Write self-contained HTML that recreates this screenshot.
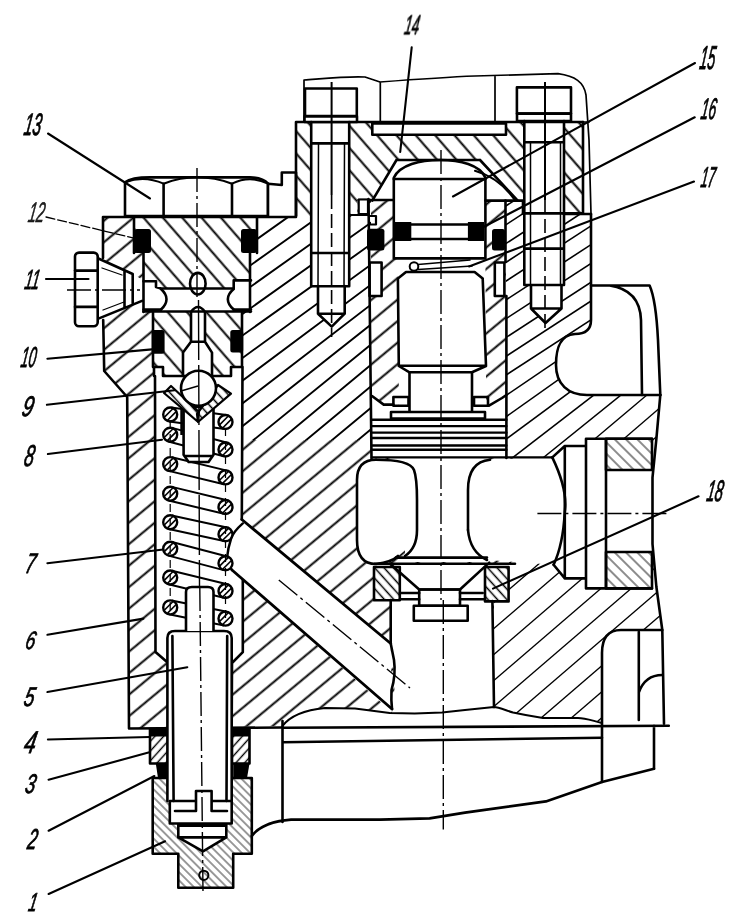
<!DOCTYPE html>
<html><head><meta charset="utf-8"><style>
html,body{margin:0;padding:0;background:#fff;width:743px;height:922px;overflow:hidden}
svg{display:block}
</style></head><body>
<svg width="743" height="922" viewBox="0 0 743 922">
<defs>
<pattern id="hb" patternUnits="userSpaceOnUse" width="80" height="16.55" patternTransform="translate(0,16.6) rotate(-39.7)"><line x1="-5" y1="8.3" x2="85" y2="8.3" stroke="#000" stroke-width="1.9"/></pattern>
<pattern id="hb2" patternUnits="userSpaceOnUse" width="80" height="19.7" patternTransform="translate(0,1.9) rotate(-40.7)"><line x1="-5" y1="9.85" x2="85" y2="9.85" stroke="#000" stroke-width="1.4"/></pattern>
<pattern id="hb3" patternUnits="userSpaceOnUse" width="80" height="15.8" patternTransform="translate(0,16.46) rotate(-33)"><line x1="-5" y1="7.9" x2="85" y2="7.9" stroke="#000" stroke-width="1.5"/></pattern>
<pattern id="hp" patternUnits="userSpaceOnUse" width="80" height="14.6" patternTransform="translate(0,1.9) rotate(49)"><line x1="-5" y1="7.3" x2="85" y2="7.3" stroke="#000" stroke-width="1.9"/></pattern>
<pattern id="hpp" patternUnits="userSpaceOnUse" width="80" height="14.6" patternTransform="translate(0,-3.15) rotate(49)"><line x1="-5" y1="7.3" x2="85" y2="7.3" stroke="#000" stroke-width="1.9"/></pattern>
<pattern id="hf" patternUnits="userSpaceOnUse" width="30" height="5.8" patternTransform="rotate(45)"><line x1="-5" y1="2.9" x2="35" y2="2.9" stroke="#000" stroke-width="0.8"/></pattern>
<pattern id="hf2" patternUnits="userSpaceOnUse" width="30" height="6.5" patternTransform="rotate(-48)"><line x1="-5" y1="3.2" x2="35" y2="3.2" stroke="#000" stroke-width="1.4"/></pattern>
<pattern id="hf3" patternUnits="userSpaceOnUse" width="30" height="7" patternTransform="rotate(48)"><line x1="-5" y1="3.5" x2="35" y2="3.5" stroke="#000" stroke-width="1.4"/></pattern>
<pattern id="hf4" patternUnits="userSpaceOnUse" width="30" height="8" patternTransform="rotate(45)"><line x1="-5" y1="4" x2="35" y2="4" stroke="#000" stroke-width="0.9"/></pattern>
</defs>

<!-- ===== MAIN BODY (hatched /) ===== -->
<path fill="url(#hb)" d="M103,217 L357.5,217 L357.5,200.6 L523,200.6 L523,214 L591,214 L591,320 C591,330 585,334 575,334 C560,335 556,348 556,365 C556,384 568,395 587,395 L660.3,395 L656.4,438.6 L652.5,477.7 L652.5,544 L656.4,587 L662.3,630 L621,630 Q602,630 602,653 L602,723 C590,720 585,718 578,718 L543,718 C530,716 520,714 513,712.5 C505,710 498,707 494,707 L465,710 L442,712.4 L414.7,713.6 L389.7,712.9 L355,708.6 L325,708 C305,710 290,716 282.5,726 L129,728.5 L127.2,397 L104.2,371 L103.2,320 L103,258 Z"/>
<clipPath id="fanclip"><path d="M243,200 L371,200 L371,440 L243,440 Z"/></clipPath>
<path fill="#fff" d="M243,217 L357.5,217 L357.5,200.6 L371,200.6 L371,440 L243,440 Z"/>
<g clip-path="url(#fanclip)" stroke="#000" stroke-width="1.9" fill="none">
<path d="M230,129.3 L400,8.6 M230,150.8 L400,30.1 M230,172.3 L400,51.6 M230,193.8 L400,73.1 M230,215.3 L400,94.6 M230,236.8 L400,116.1 M230,258.3 L400,137.6 M230,279.8 L400,159.1 M230,301.3 L400,180.6 M230,322.8 L400,202.1 M230,344.3 L400,223.6 M230,367.0 L400,243.5 M230,390.0 L400,262.9 M230,413.0 L400,282.3 M230,436.0 L400,301.6 M230,459.1 L400,321.0 M230,481.8 L400,340.7 M230,503.3 L400,362.2 M230,524.8 L400,383.7 M230,546.3 L400,405.2"/>
</g>
<clipPath id="rclip"><path d="M505.5,200.6 L523,200.6 L523,214 L591,214 L591,320 C591,330 585,334 575,334 C560,335 556,348 556,365 C556,384 568,395 587,395 L660.3,395 L656.4,438.6 L652.5,477.7 L652.5,544 L656.4,587 L662.3,630 L621,630 Q602,630 602,653 L602,723 C590,720 585,718 578,718 L543,718 C530,716 520,714 513,712.5 C505,710 498,707 494,707 L494,600 L508.6,600 L508.6,458 L506.4,458 Z"/></clipPath>
<path fill="#fff" d="M505.5,200.6 L523,200.6 L523,214 L591,214 L591,320 C591,330 585,334 575,334 C560,335 556,348 556,365 C556,384 568,395 587,395 L660.3,395 L656.4,438.6 L652.5,477.7 L652.5,544 L656.4,587 L662.3,630 L621,630 Q602,630 602,653 L602,723 C590,720 585,718 578,718 L543,718 C530,716 520,714 513,712.5 C505,710 498,707 494,707 L494,600 L508.6,600 L508.6,458 L506.4,458 Z"/>
<g clip-path="url(#rclip)" stroke="#000" fill="none">
<path stroke-width="1.60" d="M480,185.2 L680,55.2"/>
<path stroke-width="1.60" d="M480,204.0 L680,74.0"/>
<path stroke-width="1.60" d="M480,222.8 L680,92.8"/>
<path stroke-width="1.60" d="M480,241.6 L680,111.6"/>
<path stroke-width="1.60" d="M480,260.4 L680,130.4"/>
<path stroke-width="1.60" d="M480,279.2 L680,149.2"/>
<path stroke-width="1.60" d="M480,298.0 L680,168.0"/>
<path stroke-width="1.60" d="M480,316.8 L680,186.8"/>
<path stroke-width="1.60" d="M480,335.6 L680,205.6"/>
<path stroke-width="1.60" d="M480,354.4 L680,224.4"/>
<path stroke-width="1.60" d="M480,373.2 L680,243.2"/>
<path stroke-width="1.60" d="M480,392.0 L680,262.0"/>
<path stroke-width="1.60" d="M480,413.1 L680,277.4"/>
<path stroke-width="1.60" d="M480,435.2 L680,293.6"/>
<path stroke-width="1.55" d="M480,458.5 L680,310.7"/>
<path stroke-width="1.50" d="M480,482.9 L680,328.6"/>
<path stroke-width="1.44" d="M480,508.7 L680,347.4"/>
<path stroke-width="1.38" d="M480,535.7 L680,367.2"/>
<path stroke-width="1.35" d="M480,562.5 L680,390.5"/>
<path stroke-width="1.35" d="M480,588.5 L680,416.5"/>
<path stroke-width="1.35" d="M480,614.5 L680,442.5"/>
<path stroke-width="1.35" d="M480,640.5 L680,468.5"/>
<path stroke-width="1.35" d="M480,666.5 L680,494.5"/>
<path stroke-width="1.35" d="M480,692.5 L680,520.5"/>
<path stroke-width="1.35" d="M480,718.5 L680,546.5"/>
<path stroke-width="1.35" d="M480,744.5 L680,572.5"/>
<path stroke-width="1.35" d="M480,770.5 L680,598.5"/>
<path stroke-width="1.35" d="M480,796.5 L680,624.5"/>
<path stroke-width="1.35" d="M480,822.5 L680,650.5"/>
<path stroke-width="1.35" d="M480,848.5 L680,676.5"/>
<path stroke-width="1.35" d="M480,874.5 L680,702.5"/>
<path stroke-width="1.35" d="M480,900.5 L680,728.5"/>
<path stroke-width="1.35" d="M480,926.5 L680,754.5"/>
<path stroke-width="1.35" d="M480,952.5 L680,780.5"/>
<path stroke-width="1.35" d="M480,978.5 L680,806.5"/>
</g>


<!-- ===== WHITE CAVITIES ===== -->
<g fill="#fff" stroke="none">
<path d="M154,367 L243,367 L243,652 L232,663 L232,729 L167,729 L167,662 L155,652 Z"/>
<path d="M241.8,519.5 L390.7,643.5 L392,712 L232,570 L227,556 L231,539 Z"/>
<path d="M311,116 L350,116 L350,286 L344.7,286 L344.7,313.7 L331.7,326.6 L318,313.7 L318,286 L311,286 Z"/>
<path d="M524,116 L564,116 L564,285 L561.5,285 L561.5,308.5 L545.5,323 L531,308.5 L531,285 L524,285 Z"/>
<path d="M372.3,200.6 L396.5,160 L480,160 L517.7,200.6 Z"/>
<path d="M393.8,258.4 L393.8,177.7 C400,165 420,160 440,160 C460,160 480,165 485.4,177.7 L485.4,258.4 L486,366 L472,372.3 L472,411 L409.5,411 L409.5,372.3 L398.8,366 L397.5,258.4 Z"/>
<rect x="369.6" y="262.5" width="12" height="33.5"/>
<rect x="494.8" y="262.5" width="9.6" height="33.5"/>
<path d="M372,396 L383.7,404.6 L398.8,404.6 L398.8,366 L486,366 L486,405 L489,405.7 L502,398 L506.4,395 L506.4,458 L372,458 Z"/>
<!-- lobes & chamber -->
<path d="M376,459.8 Q357,459.8 357,480 L357,540 Q357,564 376,564 Q392,562 398,556 L417,540 L417,478 Q417,466 410,459.8 Z"/>
<path d="M468,478 Q468,462 480,459.8 L552.3,457.4 Q568,500 564.8,512 Q563,545 553.6,564.7 L487,560 Q468,548 468,530 Z"/>
<path d="M405,457 L480,457 L480,562 L405,562 Z"/>
<path d="M374,563.7 L508.6,563.7 L508.6,600.3 L374,600.3 Z"/>
<path d="M390.7,598 L492.4,598 L494,707 L465,710 L442,712.4 L414.7,713.6 L392,712.9 Q395,690 395,674.7 Q390,655 390.7,643.5 Z"/>
<!-- right flange -->
<path d="M552.3,457.4 L564.8,446 L586,446 L586,438.7 L652,438.7 L652,588.4 L586,588.4 L586,578.4 L564.8,578.4 L553.6,564.7 Z"/>
<!-- screw 11 -->
<path d="M98.4,258.5 L132.7,274 L143,280 L143,301 L99,318.4 Z"/>
</g>

<!-- ===== CAP (hatched \) ===== -->
<path fill="#fff" d="M296,122 L583,122 L583,213.4 L523,213.4 L523,200.6 L517.7,200.6 L480,160 L396.5,160 L372.3,200.6 L357.5,200.6 L357.5,216 L296,216 Z"/>
<path fill="url(#hp)" d="M296,122 L583,122 L583,213.4 L523,213.4 L523,200.6 L517.7,200.6 L480,160 L396.5,160 L372.3,200.6 L357.5,200.6 L357.5,216 L296,216 Z"/>
<g fill="#fff">
<rect x="372.3" y="123.4" width="133.7" height="11.3"/>
<path d="M311,122 L350,122 L350,216 L311,216 Z"/>
<path d="M524,121 L563.5,121 L563.5,214 L524,214 Z"/>
</g>

<!-- ===== PLUG 13 (hatched \) ===== -->
<path fill="#fff" d="M134,217 L257,217 L257,253 L250,253 L250,312 L242,312 L242,367 L231,367 L231,376 L163,376 L163,367 L153,367 L153,312 L144,312 L144,253 L134,253 Z"/>
<path fill="url(#hpp)" d="M134,217 L257,217 L257,253 L250,253 L250,312 L242,312 L242,367 L231,367 L231,376 L163,376 L163,367 L153,367 L153,312 L144,312 L144,253 L134,253 Z"/>
<g fill="#fff">
<path d="M143.5,281.2 L156,281.2 L156,287 L161,287 L161,288.5 L233.7,288.5 L233.7,280.4 L251,280.4 L251,311.5 L143.5,311.5 Z"/>
<ellipse cx="197.8" cy="283.7" rx="7.8" ry="10.8"/>
<path d="M191,341.8 L191,312 Q198,302 205,312 L205,341.8 L212,352.6 L212,376 L183,376 L183,352.6 Z"/>
</g>

<!-- ===== FINE HATCHED PARTS ===== -->
<g>
<rect x="150" y="729" width="19.5" height="34.5" fill="#fff"/>
<rect x="150" y="729" width="19.5" height="34.5" fill="url(#hf2)"/>
<rect x="232" y="729" width="17.5" height="34.5" fill="#fff"/>
<rect x="232" y="729" width="17.5" height="34.5" fill="url(#hf2)"/>
<path fill="#fff" d="M152.7,778 L251.8,778 L251.8,853.7 L233.2,853.7 L233.2,887.7 L178.3,887.7 L178.3,853.7 L152.7,853.7 Z"/>
<path fill="url(#hf)" d="M152.7,778 L251.8,778 L251.8,853.7 L233.2,853.7 L233.2,887.7 L178.3,887.7 L178.3,853.7 L152.7,853.7 Z"/>
<path fill="#fff" d="M169.8,778 L231.7,778 L231.7,823.5 L226.3,823.5 L226.3,837.4 L203,851.3 L178.3,837.4 L178.3,823.5 L169.8,823.5 Z"/>
<rect x="374" y="567" width="25.8" height="33.3" fill="url(#hf3)"/>
<rect x="485" y="567" width="23.6" height="34.4" fill="url(#hf3)"/>
<rect x="606" y="438.7" width="46" height="31.3" fill="url(#hf4)"/>
<rect x="606" y="552" width="46" height="36.4" fill="url(#hf4)"/>
</g>

<!-- ===== BLACK SEALS ===== -->
<g fill="#000">
<rect x="134.5" y="229" width="16.5" height="24" rx="2.5"/>
<rect x="241" y="229" width="15.8" height="24" rx="2.5"/>
<rect x="151.7" y="330" width="12.9" height="23.7" rx="2.5"/>
<rect x="230.3" y="330" width="12.9" height="22.6" rx="2.5"/>
<rect x="367" y="228.8" width="17.4" height="21.6" rx="2.5"/>
<rect x="492" y="229" width="13" height="21.5" rx="2.5"/>
<rect x="395" y="222" width="16.3" height="19"/>
<rect x="467.9" y="222" width="16.1" height="19"/>
<rect x="150" y="729" width="19.5" height="7.5"/>
<rect x="232" y="729" width="17.5" height="7.5"/>
<path d="M155.8,763.5 L169.8,763.5 L169.8,778 L158,778 Z"/>
<path d="M233.2,763.5 L249.5,763.5 L247,778 L233.2,778 Z"/>
</g>

<!-- ===== OUTLINES ===== -->
<g fill="none" stroke="#000" stroke-width="2.6" stroke-linejoin="round" stroke-linecap="round">
<!-- nut 13 -->
<path fill="#fff" d="M125,216 L125,182.4 C130,178.5 138,177.4 150,177.4 L250,177.4 C258,177.5 264,179 268,183.7 L268,216 Z"/>
<path stroke-width="2" d="M125,182.4 Q144,175 163.6,183.7 Q197,171 232,183.7 Q250,175 268,183.7"/>
<path d="M163.6,183.7 L163.6,216 M232,183.7 L232,216"/>
<path fill="#fff" d="M268,216 L268,183.7 L281.8,185 L281.8,172.5 L296,172.5 L296,216"/>
<!-- body outer -->
<path d="M103,217 L296,217 M103,217 L103,258 M103.2,320 L104.2,371 L127.2,397 L129,728.5 L282.5,727.5"/>
<!-- screw 11 -->
<rect fill="#fff" x="75" y="252.6" width="22.7" height="73.6" rx="4"/>
<path d="M75,270.6 L97.7,270.6 M75,306.9 L97.7,306.9"/>
<path d="M98.4,258.5 L132.7,274 M99,318.4 L142,300.9 M124.5,271 L124.5,308 M132.7,274 L132.7,304.2"/>
<path stroke-width="1.3" d="M102,268 L122,275 M103,310 L124,302"/>
<!-- plug -->
<path d="M134,217 L134,253 M257,217 L257,253 M143.5,253 L143.5,312 M250,253 L250,312 M153,312 L153,367 L163,367 L163,376 L231,376 L231,367 L242,367 L242,312"/>
<path d="M143.5,281.2 L156,281.2 L156,287 L161,288.5 L233.7,288.5 L233.7,280.4 L251,280.4 M143.5,311.5 L251,311.5 M143.5,309.5 L161,309.5 M233.7,309.5 L251,309.5"/>
<path d="M161,289 Q172,299 161,309.5 M233.7,289 Q222,299 233.7,309.5"/>
<ellipse cx="197.8" cy="283.7" rx="7.8" ry="10.8"/>
<path d="M191,341.8 L191,312 Q198,302 205,312 L205,341.8 L212,352.6 L212,376 M191,341.8 L183,352.6 L183,376 M191,341.8 L205,341.8"/>
<!-- spring bore walls -->
<path d="M154,376 L154,367 M155,376 L155.5,652 L167,662 M242.5,367 L241.8,519.5 M242.8,580 L242.8,652.2 L232,663 L231.7,729"/>
<path stroke-width="2.4" d="M242.8,523.4 Q233,532 231,539 Q228,548 227.2,556.6 Q228,565 232,570"/>
<!-- diagonal channel -->
<path stroke-width="2.8" d="M241.8,519.5 L390.7,643.5 M232,570 L392,709"/>
<!-- cap -->
<path d="M296,122 L583,122 M296,122 L296,216"/>
<path stroke-width="1.7" d="M304,122 L304,80 C330,78 350,76 365,77 L380,82 C420,79 450,77 475,76 L558,73.6 C575,76 584,82 586,95 L589,140 L591,214 M380.3,82 L380.3,122 M495,76 L495,121 M583,122 L589,122"/>
<path d="M583,122 L583,213.4 L523,213.4 M563.5,214 L591,214"/>
<path d="M396.5,160 L480,160 M396.5,160 L372.3,200.6 M480,160 L517.7,200.6"/>
<path stroke-width="2" d="M475,170.8 Q500,178 514.9,200.3"/>
<rect x="372.3" y="123.4" width="133.7" height="11.3"/>
<!-- bolts -->
<rect fill="#fff" x="305" y="88.5" width="51.8" height="27.5"/>
<rect fill="#fff" x="304.5" y="116.4" width="52.5" height="5.6"/>
<path d="M311.2,122 L311.2,286.2 L349.2,286.2 L349.2,122 M318,286 L318,313.7 L331.7,326.6 L344.7,313.7 L344.7,286 M318,313.7 L344.7,313.7 M311.2,143.4 L349.2,143.4 M311.2,253 L349.2,253"/>
<path stroke-width="1.5" d="M318.5,143.4 L318,286 M344.5,143.4 L344,286"/>
<rect fill="#fff" x="516.9" y="87.4" width="54.1" height="26.2"/>
<rect fill="#fff" x="517" y="113.6" width="54" height="7.4"/>
<path d="M524.3,121 L524.3,285 L564,285 L564,121 M531,285 L531,308.5 L545.5,323 L561.5,308.5 L561.5,285 M531,308.5 L561.5,308.5 M524.3,142.3 L564,142.3 M524.3,248.6 L564,248.6"/>
<path stroke-width="1.5" d="M530.5,142.3 L530.5,285 M560.5,142.3 L560.5,285"/>
<!-- sleeve -->
<path d="M358.7,200 L393.8,200 M485.4,200.6 L523,200.6 L523,213.4"/>
<path d="M368.5,199 L371.5,458.4 M505.5,200.6 L505.5,262 M506.4,296 L506.4,458"/>
<path fill="#fff" stroke-width="2.2" d="M358.7,199.5 L358.7,214 L368,214 L368,199.5 Z"/>
<path stroke-width="2.2" d="M349,215 L369,215 M369,216 L376,216 L376,224.5 L369.5,224.5"/>
<path d="M372,396 L383.7,404.6 L393.4,404.6 M489,405.7 L502,398 L506.4,395"/>
<rect x="369.6" y="262.5" width="12" height="33.5"/>
<rect x="494.8" y="262.5" width="9.6" height="33.5"/>
<!-- piston 15 -->
<path d="M393.8,258.4 L393.8,177.7 C400,165 420,160 440,160 C460,160 480,165 485.4,177.7 L485.4,258.4 Z"/>
<path d="M393.8,179 L485.4,179 M411.3,224.5 L467.9,224.5 M411.3,239 L467.9,239"/>
<!-- spring 17 -->
<circle cx="414" cy="266.5" r="4.3" stroke-width="2"/>
<path stroke-width="1.6" d="M418,264.5 L470,260 M418,269.5 L472,266"/>
<!-- lower piston -->
<path d="M397.9,278.6 L406,272 L474.6,272 L482.7,278.6 M397.9,278.6 L398.8,366 L409.5,372.3 L472,372.3 L486,366 L482.7,278.6 M398.8,365.8 L486,365.8"/>
<path d="M409.5,372.3 L409.5,411 M472,372.3 L472,411"/>
<rect x="393.4" y="397" width="15.1" height="8.7"/>
<rect x="474" y="397" width="14" height="8.7"/>
<rect x="391" y="412" width="94" height="6.6"/>
<path stroke-width="2.4" d="M372,419.7 L506.4,419.7 M372,426.1 L506.4,426.1 M372,432.6 L506.4,432.6 M372,438 L506.4,438 M372,445.5 L506.4,445.5 M372,449.8 L506.4,449.8 M372,457.4 L552.3,457.4"/>
<!-- chamber lobes -->
<path d="M376,459.8 Q357,459.8 357,480 L357,540 Q357,564 376,564 Q392,562 398,556"/>
<path d="M376,459.8 Q410,459.8 414,470 Q417,478 417,500 L417,530 Q417,548 405,556"/>
<path d="M468,530 L468,490 Q468,462 490,459.8"/>
<path d="M552.3,457.4 Q568,490 564.8,512 Q563,545 553.6,564.7"/>
<path d="M468,530 Q470,552 487,560"/>
<!-- valve head -->
<path d="M396,557.6 L487,557.6 M390,563.7 L489,563.7 M390,563.7 L419.2,589.5 L460,589.5 L489.2,562.6"/>
<path d="M375,563.7 L392,563.7 M489,563.7 L515,563.7"/>
<rect x="374" y="567" width="25.8" height="33.3"/>
<rect x="485" y="567" width="23.6" height="34.4"/>
<path d="M399.8,593 L419.2,593 M460,593 L482.7,593 M399.8,599.2 L419.2,599.2 M460,599.2 L485,599.2"/>
<rect x="419.2" y="589.5" width="40.8" height="16.2"/>
<rect x="413.8" y="605.7" width="53.9" height="15"/>
<path d="M390.7,600 L390.7,643.5 M392,709 Q391,700 391.5,690 Q396,675 394,660 L390.7,643.5 M492.4,601 L494,707"/>
<!-- right port -->
<path d="M591,214 L591,320 C591,330 585,334 575,334 C560,335 556,348 556,365 C556,384 568,395 587,395 L660.3,395"/>
<path d="M591,285.5 L649.6,285.5 Q656,300 658,340 L660.3,395 M609.7,285.5 Q640,290 641,320 L642,395"/>
<path d="M552.3,457.4 L564.8,446 L586,446 M564.8,446 L564.8,578.4 M586,438.7 L586,588.4 M606,438.7 L606,588.4 M586,438.7 L652,438.7 M586,588.4 L652,588.4 M553.6,564.7 L564.8,578.4 L586,578.4"/>
<rect x="606" y="438.7" width="46" height="31.3"/>
<rect x="606" y="552" width="46" height="36.4"/>
<path d="M660.3,395 L656.4,438.6 L652.5,477.7 L652.5,544 L656.4,587 L662.3,630 L664,723.8"/>
<path d="M602,782 L602,653 Q602,630 621,630 L662.3,630 M638.8,632 L638.8,720 M638.8,692.5 Q645,675 662.3,675"/>
<!-- base -->
<path stroke-width="2" d="M282.5,726 C290,716 305,710 325,708 L355,708.6 L389.7,712.9 L414.7,713.6 L442,712.4 L465,710 L494,707 C498,707 505,710 513,712.5 C520,714 530,716 543,718 L578,718 C585,718 590,720 602,723"/>
<path d="M282.5,727.8 L668.8,725.8 M282.5,742.3 L602,737.7 M282.5,721 L282.5,822 M654,725.8 L654,768.8"/>
<path d="M251.8,836 Q262,822 291,819.6 L380,819.6 L429.6,818.4 L465,812.6 L545.9,801.4 L602,782 L654,768.8"/>
<!-- part 4 / 1 -->
<rect x="150" y="729" width="19.5" height="34.5"/>
<rect x="232" y="729" width="17.5" height="34.5"/>
<path d="M152.7,778 L251.8,778 L251.8,853.7 L233.2,853.7 L233.2,887.7 L178.3,887.7 L178.3,853.7 L152.7,853.7 Z"/>
<path d="M169.8,801 L169.8,823.5 L231.7,823.5 L231.7,801 M178.3,823.5 L178.3,837.4 L203,851.3 L226.3,837.4 L226.3,823.5 M178.3,825.8 L226.3,825.8 M178.3,837.4 L226.3,837.4"/>
<circle cx="203.8" cy="875.3" r="4.6" stroke-width="2"/>
<!-- plunger 5 -->
<path fill="#fff" d="M167.4,801 L167.4,638 Q167.4,631 175,631 L224,631 Q231.7,631 231.7,638 L231.7,801"/>
<path d="M172.4,636 L173.6,801 M227.2,636 L226.5,801"/>
<path d="M169.8,801 L196,801 L196,791 L211.6,791 L211.6,801 L231.7,801 M175,811 L196,811 M211.6,811 L227,811 M196,801 L196,811 M211.6,801 L211.6,811"/>
</g>

<!-- ===== SPRING ===== -->
<g fill="none" stroke="#000" stroke-width="2">
<path fill="#fff" d="M169.3,421.4 L224.6,428.9 L226.4,415.1 L171.1,407.6 Z" stroke="none"/>
<path d="M169.3,421.4 L224.6,428.9 M171.1,407.6 L226.4,415.1"/>
<path fill="#fff" d="M168.4,441.5 L223.7,456.3 L227.3,442.7 L172.0,427.9 Z" stroke="none"/>
<path d="M168.4,441.5 L223.7,456.3 M172.0,427.9 L227.3,442.7"/>
<path fill="#fff" d="M168.6,470.9 L223.9,484.2 L227.1,470.6 L171.8,457.3 Z" stroke="none"/>
<path d="M168.6,470.9 L223.9,484.2 M171.8,457.3 L227.1,470.6"/>
<path fill="#fff" d="M168.6,500.5 L223.9,513.8 L227.1,500.2 L171.8,486.9 Z" stroke="none"/>
<path d="M168.6,500.5 L223.9,513.8 M171.8,486.9 L227.1,500.2"/>
<path fill="#fff" d="M168.7,529.0 L224.0,541.1 L227.0,527.5 L171.7,515.4 Z" stroke="none"/>
<path d="M168.7,529.0 L224.0,541.1 M171.7,515.4 L227.0,527.5"/>
<path fill="#fff" d="M168.4,555.6 L223.7,570.1 L227.3,556.5 L172.0,542.0 Z" stroke="none"/>
<path d="M168.4,555.6 L223.7,570.1 M172.0,542.0 L227.3,556.5"/>
<path fill="#fff" d="M168.5,584.3 L223.8,597.8 L227.2,584.2 L171.9,570.7 Z" stroke="none"/>
<path d="M168.5,584.3 L223.8,597.8 M171.9,570.7 L227.2,584.2"/>
<path fill="#fff" d="M168.8,614.3 L224.1,625.5 L226.9,611.7 L171.6,600.5 Z" stroke="none"/>
<path d="M168.8,614.3 L224.1,625.5 M171.6,600.5 L226.9,611.7"/>
</g>
<g fill="#fff" stroke="#000" stroke-width="2.4">
<circle cx="170.2" cy="414.5" r="7.0"/>
<circle cx="170.2" cy="434.7" r="7.0"/>
<circle cx="170.2" cy="464.1" r="7.0"/>
<circle cx="170.2" cy="493.7" r="7.0"/>
<circle cx="170.2" cy="522.2" r="7.0"/>
<circle cx="170.2" cy="548.8" r="7.0"/>
<circle cx="170.2" cy="577.5" r="7.0"/>
<circle cx="170.2" cy="607.4" r="7.0"/>
<circle cx="225.5" cy="422" r="7.0"/>
<circle cx="225.5" cy="449.5" r="7.0"/>
<circle cx="225.5" cy="477.4" r="7.0"/>
<circle cx="225.5" cy="507" r="7.0"/>
<circle cx="225.5" cy="534.3" r="7.0"/>
<circle cx="225.5" cy="563.3" r="7.0"/>
<circle cx="225.5" cy="591" r="7.0"/>
<circle cx="225.5" cy="618.6" r="7.0"/>
</g>
<g fill="none" stroke="#000" stroke-width="1.6">
<path d="M164.5,417.1 L172.8,408.8"/>
<path d="M167.6,420.2 L175.9,411.9"/>
<path d="M164.5,437.3 L172.8,429.0"/>
<path d="M167.6,440.4 L175.9,432.1"/>
<path d="M164.5,466.7 L172.8,458.4"/>
<path d="M167.6,469.8 L175.9,461.5"/>
<path d="M164.5,496.3 L172.8,488.0"/>
<path d="M167.6,499.4 L175.9,491.1"/>
<path d="M164.5,524.8 L172.8,516.5"/>
<path d="M167.6,527.9 L175.9,519.6"/>
<path d="M164.5,551.4 L172.8,543.1"/>
<path d="M167.6,554.5 L175.9,546.2"/>
<path d="M164.5,580.1 L172.8,571.8"/>
<path d="M167.6,583.2 L175.9,574.9"/>
<path d="M164.5,610.0 L172.8,601.7"/>
<path d="M167.6,613.1 L175.9,604.8"/>
<path d="M219.8,424.6 L228.1,416.3"/>
<path d="M222.9,427.7 L231.2,419.4"/>
<path d="M219.8,452.1 L228.1,443.8"/>
<path d="M222.9,455.2 L231.2,446.9"/>
<path d="M219.8,480.0 L228.1,471.7"/>
<path d="M222.9,483.1 L231.2,474.8"/>
<path d="M219.8,509.6 L228.1,501.3"/>
<path d="M222.9,512.7 L231.2,504.4"/>
<path d="M219.8,536.9 L228.1,528.6"/>
<path d="M222.9,540.0 L231.2,531.7"/>
<path d="M219.8,565.9 L228.1,557.6"/>
<path d="M222.9,569.0 L231.2,560.7"/>
<path d="M219.8,593.6 L228.1,585.3"/>
<path d="M222.9,596.7 L231.2,588.4"/>
<path d="M219.8,621.2 L228.1,612.9"/>
<path d="M222.9,624.3 L231.2,616.0"/>
</g>


<!-- ===== PIN / BALL / SEAT / STUB ===== -->
<g fill="none" stroke="#000" stroke-width="2.6" stroke-linejoin="round">
<path fill="#fff" d="M186,631 L186,592 Q186,587 192,587 L208,587 Q213.5,587 213.5,592 L213.5,631"/>
<path fill="#fff" d="M183.6,407 L183.6,454.7 L188.6,462 L208.5,462 L213.5,454.7 L213.5,407 Z"/>
<path d="M181.6,405 L181.6,435 M185,456 L212,456"/>
<path fill="#fff" stroke-width="2.2" d="M164,393 L171,386 L199,412 L197,421 Z M218,385 L231,393.6 L198,422 L197,414 Z"/>
<path fill="url(#hf3)" stroke="none" d="M164,393 L171,386 L199,412 L197,421 Z M218,385 L231,393.6 L198,422 L197,414 Z"/>
<circle fill="#fff" cx="198.5" cy="388.3" r="17.5"/>
<path stroke-width="1.5" d="M181,391 L198,386"/>
</g>

<!-- ===== CENTER LINES ===== -->
<g fill="none" stroke="#000" stroke-width="1.4" stroke-dasharray="24,4,3,4">
<path d="M197,168 L197,300 M199.8,587 L203,893"/>
<path stroke-dasharray="60,5" d="M198.5,300 L199.5,587"/>
<path d="M441,150 L441,600 M443.3,600 L443.3,829.6"/>
<path stroke-width="2" stroke-dasharray="none" d="M331.6,82 L331.6,195 M545,82 L545,200"/>
<path stroke-width="1.6" stroke-dasharray="14,5" d="M331.6,195 L331.6,337 M545,200 L545,330"/>
<path d="M537.4,513.5 L669.5,513.5"/>
<path d="M67,290 L140,290"/>
<path d="M278.8,580 L410,688"/>
</g>
<g fill="none" stroke="#000" stroke-width="1.2" stroke-dasharray="8,6">
<path d="M170.2,420 L170.2,612 M225.5,428 L225.5,620"/>
</g>

<!-- ===== LEADERS ===== -->
<g fill="none" stroke="#000" stroke-width="2.1" stroke-linecap="round">
<path d="M48,133.5 L150,198.5"/>
<path stroke-width="1.3" stroke-dasharray="9,3" d="M46,217 L135,238.4"/>
<path d="M46,279 L88.5,279"/>
<path d="M47.4,358.7 L152,349.4"/>
<path d="M46.9,404.8 L174.6,390.3"/>
<path d="M47.9,454 L162,439.7"/>
<path d="M47.4,563.2 L163.3,549.5"/>
<path d="M47.4,634.8 L143.4,618.6"/>
<path d="M47.4,692 L187.3,667.2"/>
<path d="M47.9,739.5 L149.6,737"/>
<path d="M48.6,779.7 L149.4,752.3"/>
<path d="M48.6,830.7 L154.4,776"/>
<path d="M48.6,894 L165.1,841.3"/>
<path d="M411.7,47.4 L400.2,152"/>
<path d="M695,63 L453,196.5"/>
<path d="M694.7,117.3 L480,228.8"/>
<path d="M694,181.6 L469,266.5"/>
<path d="M698.5,496.3 L493,588.6"/>
</g>

<!-- ===== LABELS ===== -->
<g font-family="Liberation Sans" font-style="italic" font-size="29" fill="#000" stroke="#000" stroke-width="0.9" opacity="0.999">
<text transform="translate(22.90,135.20) scale(0.530,1.070) skewX(-18)">13</text>
<text transform="translate(27.19,221.76) scale(0.507,0.978) skewX(-18)" stroke-width="0.5" fill="#222">12</text>
<text transform="translate(23.70,289.02) scale(0.489,0.959) skewX(-18)">11</text>
<text transform="translate(20.00,366.65) scale(0.467,0.995) skewX(-18)">10</text>
<text transform="translate(20.87,416.27) scale(0.678,0.977) skewX(-18)">9</text>
<text transform="translate(23.00,466.22) scale(0.600,1.037) skewX(-18)">8</text>
<text transform="translate(24.26,573.22) scale(0.598,0.964) skewX(-18)">7</text>
<text transform="translate(24.27,649.05) scale(0.595,0.870) skewX(-18)">6</text>
<text transform="translate(22.65,705.90) scale(0.632,0.933) skewX(-18)">5</text>
<text transform="translate(22.81,752.96) scale(0.715,1.084) skewX(-18)">4</text>
<text transform="translate(23.97,792.71) scale(0.620,0.926) skewX(-18)">3</text>
<text transform="translate(26.48,848.51) scale(0.571,0.988) skewX(-18)">2</text>
<text transform="translate(27.40,911.15) scale(0.522,0.896) skewX(-18)">1</text>
<text transform="translate(403.50,34.52) scale(0.457,0.964) skewX(-18)">14</text>
<text transform="translate(698.80,69.14) scale(0.472,1.143) skewX(-18)">15</text>
<text transform="translate(700.00,119.23) scale(0.467,1.023) skewX(-18)">16</text>
<text transform="translate(700.00,187.10) scale(0.440,0.993) skewX(-18)">17</text>
<text transform="translate(705.80,501.23) scale(0.501,1.023) skewX(-18)">18</text>
</g>

</svg>
</body></html>
